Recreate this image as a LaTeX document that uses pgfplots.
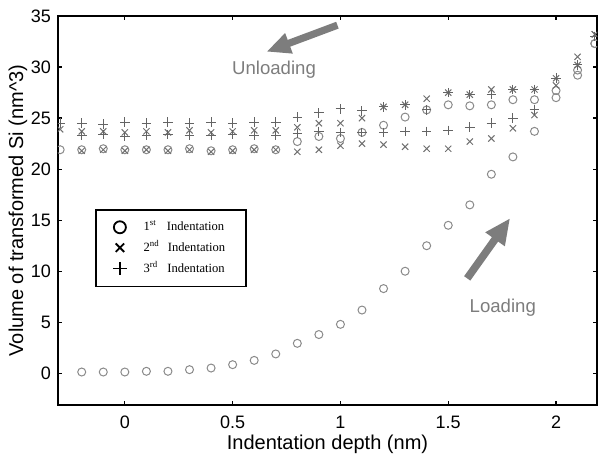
\documentclass[border=0pt]{standalone}
\usepackage{fontspec}
\setmainfont{Liberation Sans}
\newfontfamily\timesfont{Liberation Serif}
\usepackage{pgfplots}
\usepackage{pgfplotstable}
\pgfplotsset{compat=1.18}
\usetikzlibrary{arrows.meta}

\definecolor{mkcirc}{RGB}{138,138,138}
\definecolor{mkx}{RGB}{112,112,112}
\definecolor{mkplus}{RGB}{100,100,100}
\definecolor{annot}{RGB}{125,125,125}

% 1st indentation, loading
\pgfplotstableread{
x y
-0.2 0.13
-0.1 0.13
0.0 0.13
0.1 0.2
0.2 0.2
0.3 0.36
0.4 0.52
0.5 0.85
0.6 1.27
0.7 1.9
0.8 2.94
0.9 3.8
1.0 4.8
1.1 6.2
1.2 8.3
1.3 10.0
1.4 12.5
1.5 14.5
1.6 16.5
1.7 19.5
1.8 21.2
1.9 23.7
2.0 27.0
2.1 29.2
2.18 32.3
}\loadA

% 1st indentation, unloading
\pgfplotstableread{
x y
2.18 32.3
2.1 29.7
2.0 27.7
1.9 26.8
1.8 26.8
1.7 26.3
1.6 26.2
1.5 26.3
1.4 25.8
1.3 25.1
1.2 24.3
1.1 23.6
1.0 23.0
0.9 23.2
0.8 22.7
0.7 21.9
0.6 22.0
0.5 21.9
0.4 21.8
0.3 22.0
0.2 21.9
0.1 21.9
0.0 21.9
-0.1 22.0
-0.2 21.9
-0.3 21.9
}\unloadA

% 2nd indentation, loading
\pgfplotstableread{
x y
-0.2 21.8
-0.1 21.9
0.0 21.8
0.1 21.9
0.2 21.8
0.3 21.9
0.4 21.7
0.5 21.8
0.6 21.9
0.7 21.9
0.8 21.7
0.9 21.9
1.0 22.3
1.1 22.5
1.2 22.4
1.3 22.2
1.4 22.0
1.5 22.0
1.6 22.7
1.7 23.0
1.8 24.0
1.9 25.3
2.0 28.2
2.1 31.0
2.18 33.2
}\loadB

% 2nd indentation, unloading
\pgfplotstableread{
x y
2.18 33.2
2.1 30.2
2.0 28.9
1.9 27.8
1.8 27.8
1.7 27.8
1.6 27.3
1.5 27.5
1.4 26.9
1.3 26.3
1.2 26.1
1.1 25.0
1.0 24.5
0.9 24.5
0.8 24.1
0.7 23.8
0.6 23.8
0.5 23.7
0.4 23.6
0.3 23.8
0.2 23.6
0.1 23.7
0.0 23.6
-0.1 23.7
-0.2 23.7
-0.3 23.9
}\unloadB

% 3rd indentation, loading
\pgfplotstableread{
x y
-0.2 23.3
-0.1 23.4
0.0 23.2
0.1 23.3
0.2 23.4
0.3 23.3
0.4 23.3
0.5 23.4
0.6 23.3
0.7 23.3
0.8 23.5
0.9 23.7
1.0 23.6
1.1 23.6
1.2 23.6
1.3 23.7
1.4 23.7
1.5 23.8
1.6 24.1
1.7 24.5
1.8 25.0
1.9 25.8
2.0 28.9
2.1 30.2
2.18 33.0
}\loadC

% 3rd indentation, unloading
\pgfplotstableread{
x y
2.18 33.0
2.1 30.2
2.0 28.9
1.9 27.8
1.8 27.8
1.7 27.3
1.6 27.3
1.5 27.5
1.4 25.8
1.3 26.3
1.2 26.1
1.1 25.7
1.0 25.9
0.9 25.5
0.8 25.1
0.7 24.6
0.6 24.6
0.5 24.5
0.4 24.6
0.3 24.5
0.2 24.6
0.1 24.5
0.0 24.6
-0.1 24.4
-0.2 24.5
-0.3 24.5
}\unloadC

\begin{document}
\begin{tikzpicture}
\begin{axis}[
    name=ax,
    scale only axis,
    width=269.5pt, height=194.5pt,
    xmin=-0.31, xmax=2.19,
    ymin=-3.1, ymax=35,
    xtick={0,0.5,1,1.5,2},
    ytick={0,5,...,35},
    tick align=inside,
    major tick length=2.2pt,
    tick style={black, line width=0.6pt},
    axis line style={black, line width=0.8pt},
    /pgf/number format/assume math mode=true,
    ticklabel style={font=\fontsize{9}{10}\selectfont},
    xticklabel shift=2pt,
    xlabel={Indentation depth (nm)},
    ylabel={Volume of transformed Si (nm\textasciicircum 3)},
    label style={font=\fontsize{9}{10}\selectfont},
    every axis x label/.style={at={(axis description cs:0.5,-0.1)}, anchor=center},
    every axis y label/.style={at={(axis description cs:-0.0742,0.5)}, anchor=center, rotate=90},
    clip marker paths=true,
    legend cell align=left,
    legend style={at={(axis cs:-0.137,16.1)}, anchor=north west,
        draw=black, line width=0.8pt,
        font=\timesfont\fontsize{6.3}{7}\selectfont,
        inner xsep=8.5pt, inner ysep=3.5pt, row sep=-0.6pt},
]
\addplot[only marks, mark=o, mark size=2pt, mkcirc, line width=0.5pt, forget plot] table[x=x,y=y] {\loadA};
\addplot[only marks, mark=o, mark size=2pt, mkcirc, line width=0.5pt, forget plot] table[x=x,y=y] {\unloadA};
\addplot[only marks, mark=x, mark size=2.2pt, mkx, line width=0.5pt, forget plot] table[x=x,y=y] {\loadB};
\addplot[only marks, mark=x, mark size=2.2pt, mkx, line width=0.5pt, forget plot] table[x=x,y=y] {\unloadB};
\addplot[only marks, mark=+, mark size=2.4pt, mkplus, line width=0.5pt, forget plot] table[x=x,y=y] {\loadC};
\addplot[only marks, mark=+, mark size=2.4pt, mkplus, line width=0.5pt, forget plot] table[x=x,y=y] {\unloadC};

\addlegendimage{only marks, mark=o, mark size=3pt, black, line width=0.9pt}
\addlegendentry{\rule{6.5pt}{0pt}1\textsuperscript{st}\hspace{5pt}Indentation}
\addlegendimage{only marks, mark=x, mark size=3pt, black, line width=0.9pt}
\addlegendentry{\rule{6.5pt}{0pt}2\textsuperscript{nd}\hspace{4pt}Indentation}
\addlegendimage{only marks, mark=+, mark size=3.4pt, black, line width=0.9pt}
\addlegendentry{\rule{6.5pt}{0pt}3\textsuperscript{rd}\hspace{4.5pt}Indentation}

\draw[annot, line width=3.6pt, -{Triangle[length=12pt, width=10pt]}]
    (axis cs:0.986,34.1) -- (axis cs:0.657,31.5);
\draw[annot, line width=3.8pt, -{Triangle[length=13pt, width=11pt]}]
    (axis cs:1.588,9.3) -- (axis cs:1.787,15.2);
\node[annot, font=\fontsize{9.3}{10}\selectfont] at (axis cs:0.692,29.7) {Unloading};
\node[annot, font=\fontsize{9.3}{10}\selectfont] at (axis cs:1.753,6.4) {Loading};
\end{axis}
\pgfresetboundingbox
\path ([xshift=-29pt,yshift=-26.5pt]ax.south west) rectangle ([xshift=0.5pt,yshift=8pt]ax.north east);
\end{tikzpicture}
\end{document}
